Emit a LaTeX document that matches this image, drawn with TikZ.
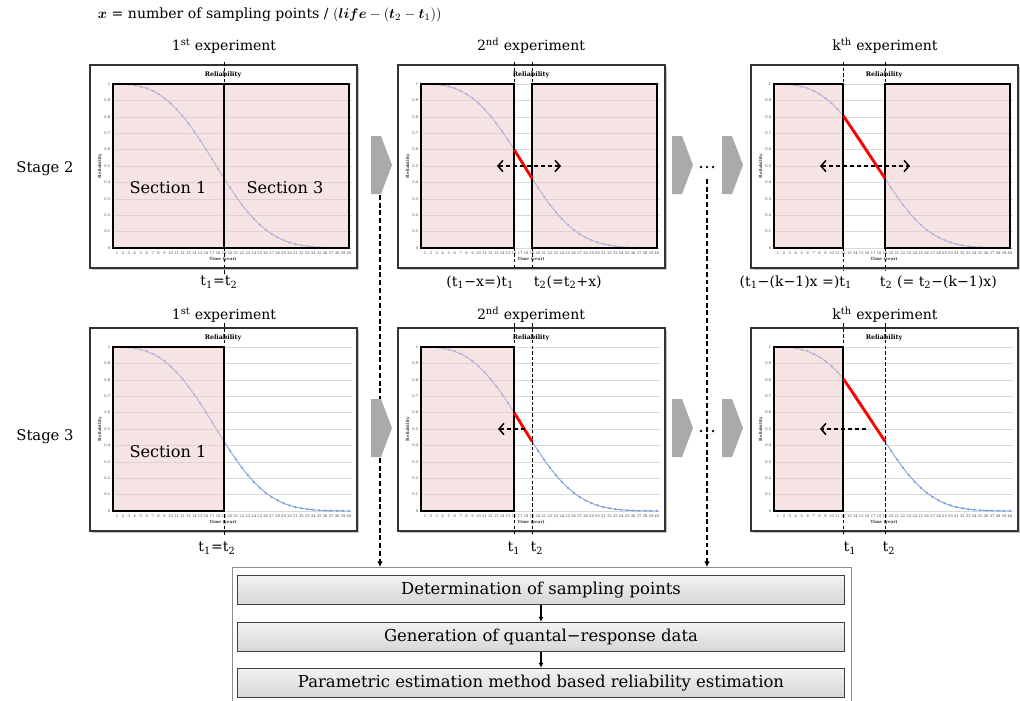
\documentclass[tikz,border=0pt]{standalone}
\usepackage{fontspec}
\setmainfont{DejaVu Serif}
\usepackage{bm}
\usetikzlibrary{arrows.meta,shadows}

\definecolor{sectionpink}{RGB}{238,200,200}
\definecolor{curveblue}{RGB}{120,160,225}
\definecolor{arrowgray}{RGB}{170,170,170}

% tick position on the time axis, reliability level on the vertical axis
\newcommand{\tx}[1]{27+(#1-1)*5.9487}
\newcommand{\ry}[1]{183-164*(#1)}

% one reliability chart, top left corner of its frame at (#1,#2)
\newcommand{\relchart}[2]{%
  \begin{scope}[shift={(#1,#2)}]
    \draw[panelframe] (0,0) rectangle (267,203);
    \node[charttitle] at (133,10) {Reliability};
    \foreach \lv in {0,...,10}{
      \draw[gridline] (22,{\ry{\lv/10}}) -- (262,{\ry{\lv/10}});
      \ifnum\lv=0 \def\lab{0}\else\ifnum\lv=10 \def\lab{1}\else\def\lab{0.\lv}\fi\fi
      \node[ticklabel,anchor=east] at (21,{\ry{\lv/10}}) {\lab};
    }
    \foreach \tk in {1,...,40}
      \node[ticklabel] at ({\tx{\tk}},188) {\tk};
    \node[ticklabel,font=\bfseries\fontsize{3}{3}\selectfont] at (133,194) {Time (year)};
    \node[ticklabel,font=\bfseries\fontsize{3}{3}\selectfont,rotate=90] at (10,101) {Reliability};
    \draw[relcurve] plot[domain=1:40,samples=40] ({\tx{\x}},{\ry{exp(-(\x/20)^3)}});
  \end{scope}}

\begin{document}
\begin{tikzpicture}[x=0.025cm,y=-0.025cm,
  panelframe/.style={draw=black!80,line width=0.9pt,fill=white,
    drop shadow={shadow xshift=1.6pt,shadow yshift=-1.6pt,fill=black!45}},
  charttitle/.style={font=\bfseries\fontsize{4.5}{5}\selectfont,inner sep=0pt},
  gridline/.style={draw=black!15,line width=0.4pt},
  ticklabel/.style={font=\fontsize{2.6}{3}\selectfont,inner sep=0.3pt,text=black!75},
  relcurve/.style={draw=curveblue,line width=0.6pt,mark=*,mark size=0.45pt,
    mark options={fill=curveblue,draw=none}},
  sectionbox/.style={draw=black,line width=1.4pt,fill=sectionpink,fill opacity=0.48},
  sectiontext/.style={font=\fontsize{11.5}{13}\selectfont},
  tline/.style={draw=black,line width=0.6pt,dash pattern=on 2.5pt off 1.5pt},
  cutline/.style={draw=red,line width=2pt},
  shiftarrow/.style={draw=black,line width=1.1pt,dash pattern=on 3pt off 2pt,
    >={Straight Barb[length=3.5pt,width=8pt]}},
  tlabel/.style={font=\fontsize{10}{12}\selectfont},
  exptitle/.style={font=\fontsize{10}{12}\selectfont},
  stagetext/.style={font=\fontsize{10.5}{12}\selectfont},
  blockarrow/.style={fill=arrowgray},
  dropline/.style={draw=black,line width=0.9pt,dash pattern=on 3.5pt off 2pt,
    -{Latex[length=4pt,width=4pt]}},
  procbox/.style={draw=black!75,line width=0.8pt,top color=black!5,bottom color=black!16,
    inner sep=0pt,minimum width=15.18cm,minimum height=0.73cm,font=\fontsize{11.7}{13}\selectfont},
  flowarrow/.style={line width=0.8pt,-{Latex[length=3.5pt,width=3.5pt]}}]

\useasboundingbox (0,0) rectangle (1020,700);

\node[anchor=west,font=\fontsize{10}{12}\selectfont] (formula) at (93,15)
  {$\bm{x}$ = number of sampling points / $(\bm{life}-(\bm{t}_2-\bm{t}_1))$};

\node[stagetext] (stage2) at (45,169) {Stage 2};
\node[stagetext] (stage3) at (45,437) {Stage 3};

% drop lines down to the procedure
\coordinate (flowtop) at (541,567);
\coordinate (dropa) at (380,195);
\coordinate (dropb) at (707,179);
\draw[dropline] (dropa) -- (dropa |- flowtop);
\draw[dropline] (dropb) -- (dropb |- flowtop);

% stage 2, first experiment
\node[exptitle] (title21) at (224,46) {1\textsuperscript{st} experiment};
\relchart{90}{65}
\begin{scope}[shift={(90,65)}]
  \draw[sectionbox] (23,19) rectangle ({\tx{19}},183);
  \draw[sectionbox] ({\tx{19}},19) rectangle (259,183);
  \draw[tline] ({\tx{19}},-3) -- ({\tx{19}},210);
  \node[sectiontext] (sec21a) at (78,123) {Section 1};
  \node[sectiontext] (sec21b) at (195,123) {Section 3};
  \node[tlabel] (lab21) at (129,217) {t\textsubscript{1}=t\textsubscript{2}};
\end{scope}

% stage 2, second experiment
\node[exptitle] (title22) at (531,46) {2\textsuperscript{nd} experiment};
\relchart{398}{65}
\begin{scope}[shift={(398,65)}]
  \draw[sectionbox] (23,19) rectangle ({\tx{16}},183);
  \draw[sectionbox] ({\tx{19}},19) rectangle (259,183);
  \draw[tline] ({\tx{16}},-3) -- ({\tx{16}},204);
  \draw[tline] ({\tx{19}},-3) -- ({\tx{19}},204);
  \draw[cutline] ({\tx{16}},{\ry{0.599}}) -- ({\tx{19}},{\ry{0.424}});
  \draw[shiftarrow,<->] (99,101) -- (163,101);
  \node[tlabel,anchor=east] (lab22a) at (121,217) {(t\textsubscript{1}−x=)t\textsubscript{1}};
  \node[tlabel,anchor=west] (lab22b) at (131,217) {t\textsubscript{2}(=t\textsubscript{2}+x)};
\end{scope}

% stage 2, k-th experiment
\node[exptitle] (title2k) at (885,46) {k\textsuperscript{th} experiment};
\relchart{751}{65}
\begin{scope}[shift={(751,65)}]
  \draw[sectionbox] (23,19) rectangle ({\tx{12}},183);
  \draw[sectionbox] ({\tx{19}},19) rectangle (259,183);
  \draw[tline] ({\tx{12}},-3) -- ({\tx{12}},206);
  \draw[tline] ({\tx{19}},-3) -- ({\tx{19}},206);
  \draw[cutline] ({\tx{12}},{\ry{0.806}}) -- ({\tx{19}},{\ry{0.424}});
  \draw[shiftarrow,<->] (69,101) -- (159,101);
  \node[tlabel,anchor=east] (lab2ka) at (106,217) {(t\textsubscript{1}−(k−1)x =)t\textsubscript{1}};
  \node[tlabel,anchor=west] (lab2kb) at (124,217) {t\textsubscript{2} (= t\textsubscript{2}−(k−1)x)};
\end{scope}

% stage 3, first experiment
\node[exptitle] (title31) at (224,315) {1\textsuperscript{st} experiment};
\relchart{90}{328}
\begin{scope}[shift={(90,328)}]
  \draw[sectionbox] (23,19) rectangle ({\tx{19}},183);
  \draw[tline] ({\tx{19}},-5) -- ({\tx{19}},208);
  \node[sectiontext] (sec31) at (78,124) {Section 1};
  \node[tlabel] (lab31) at (127,220) {t\textsubscript{1}=t\textsubscript{2}};
\end{scope}

% stage 3, second experiment
\node[exptitle] (title32) at (531,315) {2\textsuperscript{nd} experiment};
\relchart{398}{328}
\begin{scope}[shift={(398,328)}]
  \draw[sectionbox] (23,19) rectangle ({\tx{16}},183);
  \draw[tline] ({\tx{16}},-5) -- ({\tx{16}},206);
  \draw[tline] ({\tx{19}},-5) -- ({\tx{19}},206);
  \draw[cutline] ({\tx{16}},{\ry{0.599}}) -- ({\tx{19}},{\ry{0.424}});
  \draw[shiftarrow,->] (127,101) -- (100,101);
  \node[tlabel] (lab32a) at (116,220) {t\textsubscript{1}};
  \node[tlabel] (lab32b) at (139,220) {t\textsubscript{2}};
\end{scope}

% stage 3, k-th experiment
\node[exptitle] (title3k) at (885,315) {k\textsuperscript{th} experiment};
\relchart{751}{328}
\begin{scope}[shift={(751,328)}]
  \draw[sectionbox] (23,19) rectangle ({\tx{12}},183);
  \draw[tline] ({\tx{12}},-5) -- ({\tx{12}},206);
  \draw[tline] ({\tx{19}},-5) -- ({\tx{19}},206);
  \draw[cutline] ({\tx{12}},{\ry{0.806}}) -- ({\tx{19}},{\ry{0.424}});
  \draw[shiftarrow,->] (115,101) -- (69,101);
  \node[tlabel] (lab3ka) at (99,220) {t\textsubscript{1}};
  \node[tlabel] (lab3kb) at (138,220) {t\textsubscript{2}};
\end{scope}

% grey arrows between the experiments
\foreach \ax/\ay in {371/165,672/165,722/165,371/428,672/428,722/428}
  \fill[blockarrow] (\ax,{\ay-29}) -- ({\ax+10},{\ay-29}) -- ({\ax+21},\ay)
    -- ({\ax+10},{\ay+29}) -- (\ax,{\ay+29}) -- cycle;
\foreach \dy in {167,431}
  \foreach \dx in {701,707,713}
    \fill (\dx,\dy) circle (0.9pt);

% procedure
\draw[draw=black!45,line width=0.6pt] (232,702) |- (851,567) -- (851,702);
\node[procbox] (determ) at (541,590) {Determination of sampling points};
\node[procbox] (gener) at (541,637) {Generation of quantal−response data};
\node[procbox] (param) at (541,683) {Parametric estimation method based reliability estimation};
\draw[flowarrow] (determ) -- (gener);
\draw[flowarrow] (gener) -- (param);

\end{tikzpicture}
\end{document}
